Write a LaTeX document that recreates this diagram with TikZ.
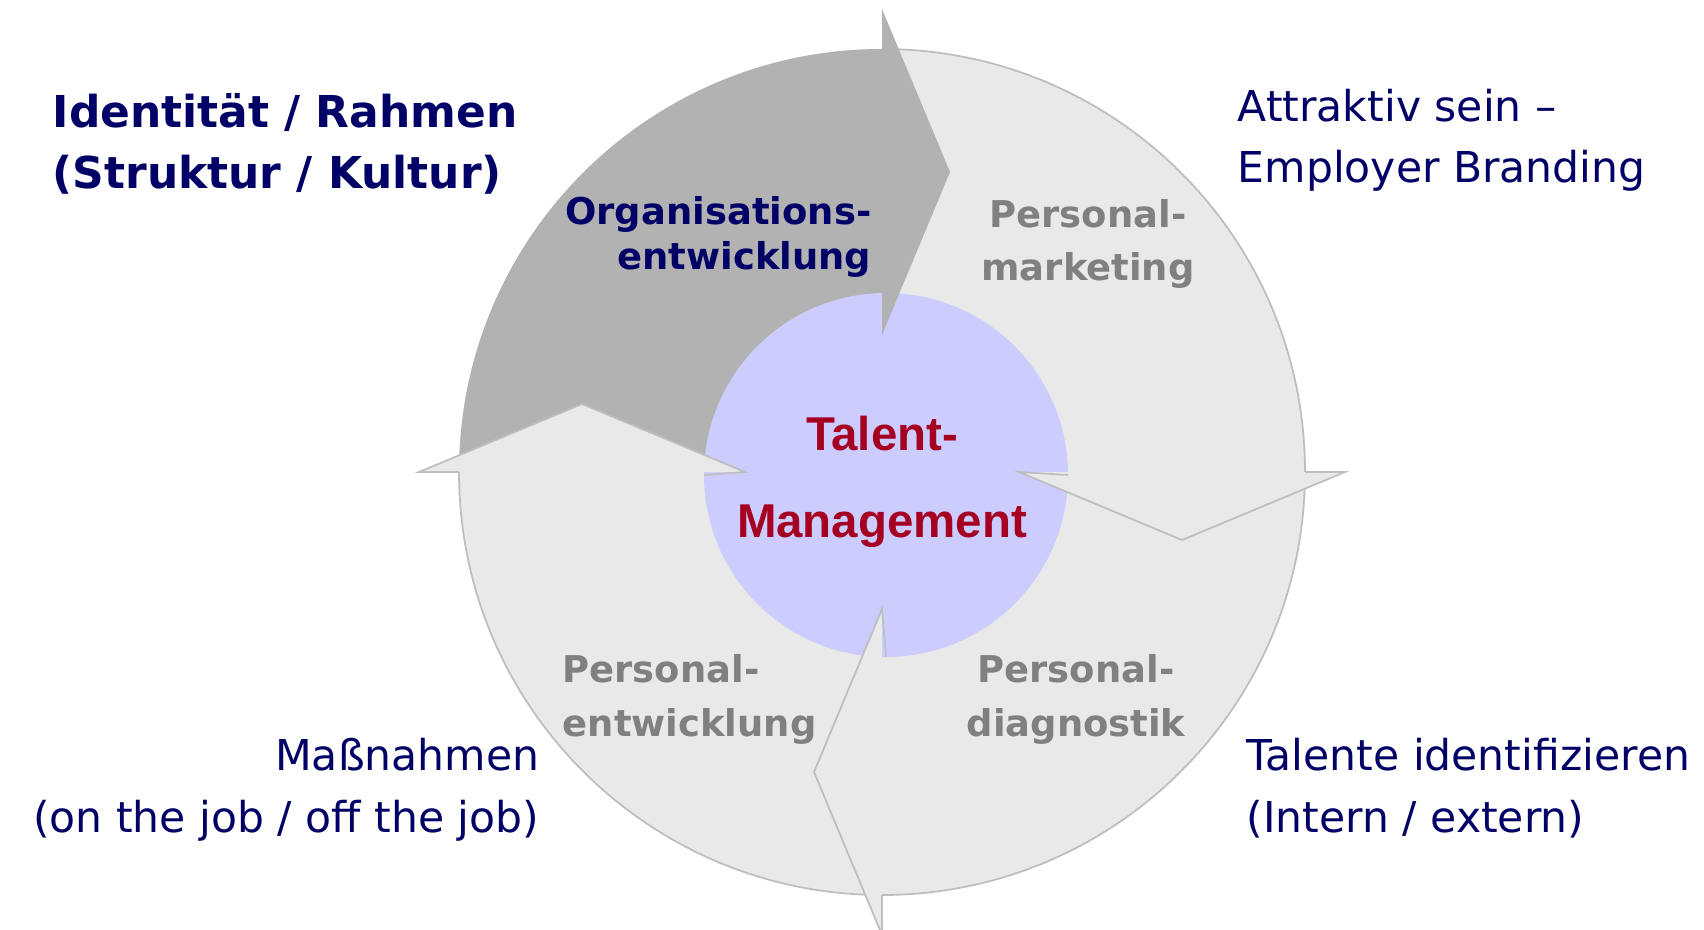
\documentclass[tikz,border=0pt]{standalone}
\usepackage{fontspec}
\setmainfont{DejaVu Sans}
\newfontfamily\arialfont{Liberation Sans}
\usepackage{tikz}
\usetikzlibrary{calc}
\usetikzlibrary{positioning}
\definecolor{navy}{RGB}{0,0,102}
\definecolor{talentred}{RGB}{165,0,33}
\definecolor{textgrey}{RGB}{128,128,128}
\definecolor{ringlight}{RGB}{233,233,233}
\definecolor{ringdark}{RGB}{178,178,178}
\definecolor{rimgrey}{RGB}{190,190,190}
\definecolor{lavender}{RGB}{204,204,255}

\begin{document}
\begin{tikzpicture}
	[
	scale=1, every node/.style={inner sep=0pt},
	rim/.style = {draw=rimgrey, line width=0.5pt, line join=miter},
	outer label/.style = {text=navy, font=\fontsize{12.1}{17.4}\selectfont},
	ring label/.style = {font=\bfseries\fontsize{10.5}{15.2}\selectfont},
	]
	\useasboundingbox (0,0) rectangle (17.04,-9.30);

	\coordinate (c) at (8.82,-4.72);
	\coordinate (m) at (8.86,-4.75);

	% ring
	\fill[ringlight] (c) circle (4.23);
	\fill[ringdark] (c) -- ++(179.3:4.23) arc[start angle=179.3, end angle=90, radius=4.23] -- cycle;
	\draw[rim] ($(c)+(90:4.23)$) arc[start angle=90, end angle=-180, radius=4.23];
	\fill[lavender] (m) circle (1.82);

	% heads
	\coordinate (a1) at ($(c)+(90:4.63)$);
	\coordinate (b1) at ($(c)+(90:1.37)$);
	\coordinate (t1) at ($(c)+(90:3)+(0:0.68)$);
	\coordinate (a2) at ($(c)+(0:4.63)$);
	\coordinate (b2) at ($(c)+(0:1.37)$);
	\coordinate (t2) at ($(c)+(0:3)+(-90:0.68)$);
	\coordinate (a3) at ($(c)+(-90:4.63)$);
	\coordinate (b3) at ($(c)+(-90:1.37)$);
	\coordinate (t3) at ($(c)+(-90:3)+(180:0.68)$);
	\coordinate (a4) at ($(c)+(180:4.63)$);
	\coordinate (b4) at ($(c)+(180:1.37)$);
	\coordinate (t4) at ($(c)+(180:3)+(90:0.68)$);

	\fill[ringdark] (a1) -- (t1) -- (b1) -- cycle;

	\fill[ringlight] (a2) -- (t2) -- (b2) -- cycle;
	\draw[rim] ($(c)+(0:4.23)$) -- (a2) -- (t2) -- (b2) -- ($(m)+(0:1.82)$);

	\fill[ringlight] (a3) -- (t3) -- (b3) -- cycle;
	\draw[rim] ($(c)+(-90:4.23)$) -- (a3) -- (t3) -- (b3) -- ($(m)+(-90:1.82)$);

	\fill[ringlight] (a4) -- (t4) -- (b4) -- cycle;
	\draw[rim] ($(c)+(180:4.23)$) -- (a4) -- (t4) -- (b4) -- ($(m)+(180:1.82)$);

	% labels
	\node[outer label, font=\bfseries\fontsize{12.5}{17.6}\selectfont, align=left, anchor=base west] (ident) at (0.52,-1.89) {Identität / Rahmen\\(Struktur / Kultur)};
	\node[outer label, align=left, anchor=base west] (attr) at (12.37,-1.83) {Attraktiv sein --\\Employer Branding};
	\node[outer label, align=right, anchor=base east] (mass) at (5.40,-8.32) {Maßnahmen\\(on the job / off the job)};
	\node[outer label, align=left, anchor=base west] (tal) at (12.46,-8.32) {Talente identifizieren\\(Intern / extern)};

	\node[ring label, text=navy, font=\bfseries\fontsize{10.5}{13}\selectfont, align=right, anchor=base east] (org) at (8.72,-2.70) {Organisations-\\entwicklung};
	\node[ring label, text=textgrey, align=center, anchor=base] (pm) at (10.88,-2.81) {Personal-\\marketing};
	\node[ring label, text=textgrey, align=left, anchor=base west] (pe) at (5.62,-7.36) {Personal-\\entwicklung};
	\node[ring label, text=textgrey, align=center, anchor=base] (pd) at (10.76,-7.36) {Personal-\\diagnostik};

	\node[text=talentred, font=\arialfont\bfseries\fontsize{13.5}{24.5}\selectfont, align=center, anchor=base] (tm) at (8.82,-5.37) {Talent-\\Management};
\end{tikzpicture}
\end{document}
